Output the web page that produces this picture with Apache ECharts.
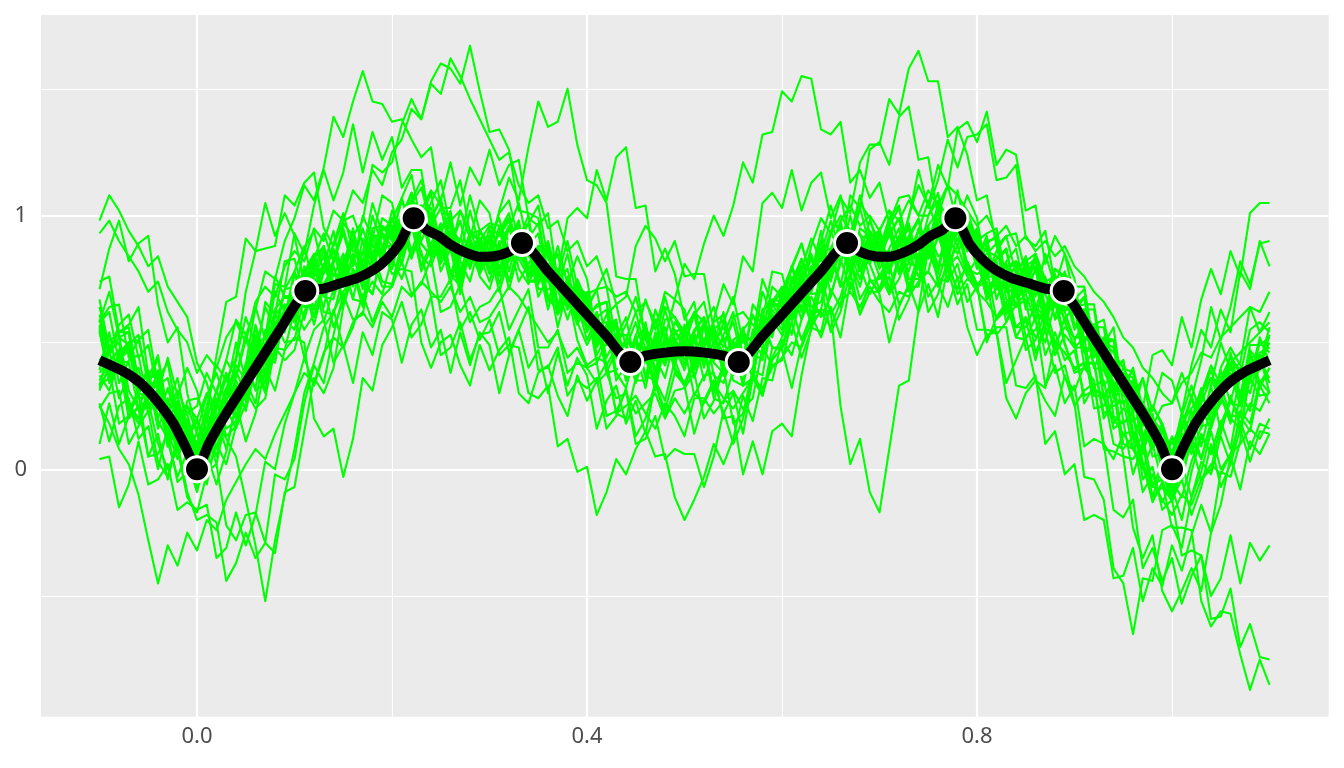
<!DOCTYPE html>
<html>
<head>
<meta charset="utf-8">
<script src="https://cdn.jsdelivr.net/npm/echarts@6/dist/echarts.min.js"></script>
<style>
html,body{margin:0;padding:0;background:#fff;}
#chart{width:1344px;height:768px;}
</style>
</head>
<body>
<div id="chart"></div>
<script>
// ---- data ----
const xs = [-0.10,-0.09,-0.08,-0.07,-0.06,-0.05,-0.04,-0.03,-0.02,-0.01,
  0.00,0.01,0.02,0.03,0.04,0.05,0.06,0.07,0.08,0.09,
  0.10,0.11,0.12,0.13,0.14,0.15,0.16,0.17,0.18,0.19,
  0.20,0.21,0.22,0.23,0.24,0.25,0.26,0.27,0.28,0.29,
  0.30,0.31,0.32,0.33,0.34,0.35,0.36,0.37,0.38,0.39,
  0.40,0.41,0.42,0.43,0.44,0.45,0.46,0.47,0.48,0.49,
  0.50,0.51,0.52,0.53,0.54,0.55,0.56,0.57,0.58,0.59,
  0.60,0.61,0.62,0.63,0.64,0.65,0.66,0.67,0.68,0.69,
  0.70,0.71,0.72,0.73,0.74,0.75,0.76,0.77,0.78,0.79,
  0.80,0.81,0.82,0.83,0.84,0.85,0.86,0.87,0.88,0.89,
  0.90,0.91,0.92,0.93,0.94,0.95,0.96,0.97,0.98,0.99,
  1.00,1.01,1.02,1.03,1.04,1.05,1.06,1.07,1.08,1.09,
  1.10];

const g01 = [.93,.98,.90,.84,.78,.70,.74,.62,.55,.50, .38,.45,.40,.52,.58,.50,.66,.72,.68,.80, .86,.82,.95,.90,1.02,.98,1.10,1.05,1.18,1.12, 1.25,1.30,1.42,1.38,1.52,1.48,1.62,1.55,1.46,1.38, 1.30,1.22,1.25,1.12,1.05,1.08,.95,.98,.86,.90, .80,.84,.72,.68,.70,.62,.66,.58,.64,.60, .54,.62,.58,.50,.56,.48,.55,.60,.58,.66, .72,.70,.82,.78,.90,.86,.98,1.04,.96,1.00, .94,1.02,.98,1.06,1.00,1.10,1.04,1.12,1.08,1.02, .96,1.00,.92,.96,.88,.92,.86,.90,.84,.88, .80,.76,.70,.66,.60,.52,.48,.40,.36,.30, .26,.34,.38,.46,.44,.52,.56,.60,.64,.62, .70];
const g02 = [.25,.18,.08,.02,-.10,-.28,-.45,-.30,-.38,-.25, -.32,-.20,-.24,-.12,-.05,.02,.08,.04,.14,.22, .30,.38,.34,.46,.52,.48,.58,.62,.56,.66, .60,.72,.68,.74,.70,.66,.72,.62,.68,.58, .60,.66,.72,.68,.62,.56,.50,.54,.44,.48, .40,.34,.38,.28,.30,.22,.26,.30,.20,.28, .22,.30,.26,.34,.28,.24,.30,.36,.32,.40, .44,.50,.48,.58,.62,.56,.66,.70,.64,.72, .66,.62,.70,.68,.74,.78,.72,.80,.84,.76, .70,.66,.60,.64,.56,.60,.52,.56,.50,.46, .40,.42,.32,.28,.20,.14,.08,.02,-.06,-.12, -.18,-.10,-.14,-.04,.02,-.02,.06,.10,.16,.12, .20];
const g03 = [.98,1.08,1.02,.94,.88,.80,.84,.72,.66,.60, .42,.34,.20,.12,.05,-.12,-.30,-.52,-.28,-.10, .08,.30,.42,.56,.62,.70,.76,.82,.88,.86, .94,1.00,1.06,1.02,1.10,1.04,.98,1.02,.94,.90, .96,.92,.98,.90,.84,.80,.74,.78,.70,.62, .56,.60,.52,.48,.44,.50,.46,.52,.44,.50, .56,.50,.58,.52,.46,.50,.44,.52,.56,.60, .62,.70,.74,.70,.80,.84,.88,.92,.88,.84, .88,.82,.90,.86,.94,.90,.98,1.00,1.04,.96, .90,.86,.84,.80,.82,.76,.80,.74,.76,.72, .66,.62,.56,.50,.46,.40,.32,.26,.20,.12, .10,.18,.24,.30,.36,.34,.42,.46,.50,.54, .58];
const g04 = [.58,.70,.52,.49,.53,.33,.33,.36,.19,.22, .25,.38,.30,.43,.59,.53,.63,.78,.75,.90, .99,1.12,1.06,1.19,1.39,1.31,1.45,1.57,1.45,1.44, 1.37,1.38,1.30,1.23,1.27,1.03,1.03,1.14,.93,.94, .97,.96,.90,.89,.93,.71,.71,.72,.65,.64, .57,.58,.38,.39,.45,.35,.35,.50,.43,.44, .49,.48,.42,.43,.47,.35,.33,.50,.45,.56, .61,.70,.64,.71,.87,.69,.81,.94,.79,.82, .85,.86,.78,.81,.95,.83,.91,1.02,.97,.96, .89,.88,.72,.73,.81,.63,.63,.76,.59,.64, .61,.58,.40,.39,.43,.19,.19,.22,.05,.06, .01,.14,.06,.17,.33,.15,.27,.40,.35,.46, .48];
const g05 = [.33,.36,.42,.20,.25,.27,.10,.00,.08,-.11, -.17,-.02,.10,.02,.17,.31,.24,.28,.48,.43, .47,.62,.72,.64,.81,.97,.92,.98,1.20,1.17, 1.21,1.36,1.46,1.38,1.53,1.60,1.58,1.52,1.67,1.49, 1.33,1.34,1.26,1.02,1.01,.99,.76,.64,.70,.51, .41,.44,.42,.22,.25,.29,.22,.16,.26,.21, .13,.28,.28,.22,.27,.31,.24,.28,.48,.41, .43,.58,.68,.58,.73,.87,.72,.76,.88,.81, .71,.84,.86,.78,.91,.93,.84,.86,.96,.81, .73,.76,.76,.58,.65,.69,.58,.50,.66,.49, .39,.42,.42,.22,.25,.27,.08,.00,.10,-.05, -.13,.02,.12,.04,.17,.29,.20,.16,.36,.29, .30];
const g06 = [.57,.41,.44,.50,.30,.28,.35,.15,.20,.05, .07,.01,.15,.24,.16,.26,.43,.31,.48,.47, .63,.55,.61,.72,.56,.66,.79,.67,.74,.69, .83,.75,.87,.86,.68,.68,.75,.55,.62,.51, .59,.45,.49,.48,.30,.28,.33,.09,.12,-.01, .01,-.18,-.09,.04,-.02,.08,.15,.05,.06,-.11, -.20,-.12,-.03,.10,.02,.12,.29,.19,.36,.35, .51,.45,.59,.68,.60,.68,.83,.71,.80,.69, .77,.69,.75,.86,.76,.78,.93,.81,.88,.77, .83,.67,.71,.72,.56,.56,.65,.45,.54,.43, .47,.29,.31,.30,.10,.08,.13,-.09,-.02,-.13, -.05,-.11,.03,.14,.06,.14,.29,.17,.26,.23, .31];
const g07 = [.37,.31,.43,.42,.24,.24,.29,.09,.16,.03, .11,.05,.19,.32,.24,.36,.53,.43,.60,.59, .73,.65,.77,.80,.72,.74,.91,.79,.88,.87, .99,.91,1.03,1.04,.86,.86,.93,.79,.86,.77, .85,.77,.89,.92,.74,.74,.81,.61,.68,.57, .65,.51,.55,.58,.42,.52,.67,.55,.70,.67, .81,.75,.89,1.00,.92,1.04,1.21,1.13,1.32,1.33, 1.49,1.45,1.55,1.54,1.34,1.32,1.37,1.13,1.18,1.07, 1.13,.97,1.07,1.08,1.00,1.00,1.09,.89,1.02,.89, .95,.79,.83,.86,.68,.70,.79,.59,.68,.59, .65,.47,.49,.48,.28,.26,.31,.09,.16,.03, .11,.05,.19,.30,.20,.26,.41,.29,.44,.39, .53];
const g08 = [.58,.62,.42,.50,.51,.35,.39,.23,.31,.22, .06,.22,.14,.30,.41,.35,.49,.43,.63,.68, .66,.80,.68,.80,.87,.77,.89,.79,.95,.96, .92,1.06,.96,1.02,1.03,.89,.93,.83,.93,.90, .82,.96,.84,.90,.91,.75,.79,.63,.73,.68, .56,.62,.44,.52,.53,.43,.53,.43,.59,.60, .50,.62,.50,.58,.61,.47,.53,.45,.63,.66, .64,.80,.72,.88,.99,.93,1.07,1.01,1.21,1.28, 1.28,1.46,1.40,1.58,1.65,1.53,1.53,1.31,1.35,1.24, 1.06,1.08,.88,.92,.93,.77,.83,.69,.79,.76, .64,.68,.48,.52,.51,.33,.35,.17,.25,.18, .06,.22,.14,.30,.41,.33,.45,.37,.55,.58, .54];
const g09 = [.31,.41,.44,.23,.31,.39,.19,.12,.25,.04, -.09,.08,.20,.08,.25,.42,.31,.34,.58,.50, .51,.68,.75,.58,.71,.83,.67,.66,.86,.74, .73,.89,1.00,.80,.89,.97,.77,.72,.90,.76, .71,.84,.90,.74,.81,.88,.68,.62,.76,.58, .49,.57,.58,.35,.41,.53,.37,.35,.53,.39, .33,.44,.49,.31,.41,.51,.33,.35,.58,.48, .47,.63,.72,.56,.63,.62,.25,.02,.12,-.09, -.17,.08,.33,.35,.63,.87,.75,.74,.95,.78, .71,.80,.82,.62,.72,.82,.64,.60,.77,.62, .51,.58,.57,.33,.38,.43,.20,.11,.22,.01, -.09,.11,.23,.09,.25,.39,.26,.25,.46,.34, .40];
const g10 = [.56,.37,.46,.50,.34,.39,.20,.32,.18,.25, .14,.01,.19,.32,.26,.41,.32,.55,.52,.71, .72,.59,.73,.81,.70,.80,.67,.86,.79,.95, .94,.81,.97,1.02,.87,.93,.76,.91,.82,.94, .89,.73,.86,.94,.79,.84,.66,.79,.66,.75, .66,.45,.53,.56,.40,.50,.36,.54,.45,.58, .53,.36,.48,.54,.41,.50,.34,.55,.50,.67, .66,.53,.69,.80,.72,.84,.72,.92,.82,.94, .88,.71,.84,.92,.81,.92,.79,.98,.90,.99, .90,.69,.77,.80,.64,.67,.46,.55,.38,.41, .26,-.03,-.04,-.12,-.39,-.45,-.65,-.43,-.44,-.24, -.22,-.31,-.11,.03,-.02,.13,.02,.23,.18,.35, .30];
const g11 = [.35,.42,.47,.25,.20,.31,.33,.19,.07,.17, .01,.14,.27,.13,.17,.37,.48,.44,.42,.64, .59,.72,.81,.62,.61,.76,.83,.75,.69,.87, .81,.93,1.06,.84,.80,.91,.94,.82,.74,.89, .79,.88,.96,.79,.73,.83,.85,.71,.59,.71, .56,.60,.63,.38,.32,.47,.53,.44,.36,.52, .43,.50,.57,.37,.34,.47,.51,.46,.43,.63, .57,.69,.80,.64,.66,.83,.92,.85,.75,.90, .79,.87,.95,.75,.75,.91,.99,.91,.85,.95, .81,.85,.89,.67,.64,.76,.80,.69,.60,.74, .57,.57,.56,.28,.18,.24,.21,.03,-.13,-.05, -.23,-.23,-.24,-.52,-.62,-.56,-.57,-.73,-.87,-.75, -.85];
const g12 = [.54,.38,.45,.48,.28,.29,.38,.14,.23,.08, .14,.04,.20,.32,.21,.32,.51,.38,.57,.54, .72,.64,.76,.84,.69,.76,.91,.74,.89,.82, .96,.84,.98,1.02,.83,.86,.97,.76,.89,.80, .92,.79,.90,.98,.77,.78,.88,.65,.74,.61, .68,.50,.56,.58,.37,.43,.57,.39,.52,.43, .55,.41,.51,.56,.39,.43,.55,.41,.59,.54, .70,.60,.74,.84,.71,.79,.96,.80,.91,.81, .92,.78,.89,.96,.80,.87,1.02,.85,1.00,.86, .94,.76,.83,.87,.68,.71,.83,.62,.73,.62, .68,.46,.48,.46,.21,.18,.23,-.04,.01,-.16, -.12,-.34,-.32,-.34,-.59,-.58,-.47,-.70,-.61,-.74, -.75];
const g13 = [.10,.26,.10,.21,.24,.05,.14,-.04,.13,.09, -.05,.14,.02,.21,.33,.23,.40,.30,.55,.59, .55,.73,.57,.72,.80,.65,.78,.64,.85,.85, .79,.96,.83,.94,.97,.78,.87,.69,.87,.84, .74,.88,.71,.86,.88,.68,.76,.56,.71,.65, .51,.60,.38,.47,.49,.34,.46,.31,.50,.48, .39,.54,.40,.59,.73,.65,.84,.78,1.05,1.09, 1.03,1.18,1.02,1.13,1.17,.99,1.08,.90,1.05,.99, .85,.96,.78,.92,.99,.84,.96,.81,1.01,.93, .79,.88,.67,.78,.82,.64,.74,.56,.73,.69, .55,.63,.40,.49,.51,.31,.40,.24,.45,.47, .41,.60,.48,.67,.79,.69,.86,.76,1.01,1.05, 1.05];
const g14 = [.74,.76,.54,.57,.64,.37,.36,.42,.21,.25, .20,.30,.18,.31,.50,.35,.46,.64,.55,.71, .78,.88,.72,.80,.94,.74,.81,.95,.82,.94, .98,1.07,.94,.99,1.09,.85,.88,.98,.82,.91, .92,.99,.82,.91,1.00,.75,.77,.85,.66,.72, .69,.71,.49,.52,.60,.40,.46,.59,.44,.54, .56,.61,.43,.50,.62,.40,.44,.61,.51,.65, .70,.80,.66,.77,.94,.76,.85,1.00,.83,.92, .94,1.02,.88,.99,1.18,1.03,1.14,1.30,1.19,1.31, 1.32,1.36,1.14,1.15,1.20,.91,.88,.94,.73,.77, .72,.72,.48,.49,.56,.29,.28,.36,.17,.25, .26,.38,.28,.43,.64,.51,.64,.82,.73,.89, .90];
const g15 = [.24,.30,.31,.10,.17,.23,.03,-.03,.10,-.09, -.20,-.18,-.21,-.44,-.37,-.25,-.35,-.29,-.02,-.04, .04,.26,.41,.34,.53,.69,.59,.61,.82,.72, .72,.86,.97,.78,.87,.95,.77,.75,.94,.84, .86,1.02,1.15,1.06,1.27,1.45,1.35,1.37,1.50,1.28, 1.14,1.12,1.05,.76,.75,.75,.51,.43,.56,.40, .34,.43,.48,.30,.41,.50,.33,.36,.58,.48, .48,.62,.71,.58,.73,.86,.73,.75,.90,.75, .70,.80,.86,.70,.82,.94,.80,.81,1.00,.80, .72,.78,.80,.61,.71,.79,.62,.59,.74,.58, .48,.52,.51,.28,.33,.37,.15,.07,.18,-.02, -.12,.06,.17,.04,.19,.33,.21,.21,.42,.32, .40];
const g16 = [.55,.34,.43,.47,.30,.35,.16,.28,.11,.20, .09,-.06,.13,.27,.20,.35,.26,.50,.43,.62, .61,.44,.55,.59,.42,.49,.34,.54,.45,.62, .59,.42,.57,.63,.48,.55,.38,.54,.41,.54, .49,.30,.45,.55,.40,.47,.30,.46,.33,.44, .37,.16,.27,.33,.18,.27,.14,.34,.23,.38, .33,.14,.27,.35,.22,.30,.14,.36,.29,.48, .47,.32,.49,.61,.52,.64,.52,.74,.61,.75, .69,.50,.64,.73,.62,.73,.60,.80,.71,.82, .73,.50,.60,.66,.52,.59,.43,.60,.47,.60, .51,.26,.33,.35,.16,.19,-.02,.10,-.07,.02, -.07,-.20,-.01,.13,.06,.19,.08,.30,.23,.42, .36];
const g17 = [.42,.51,.53,.31,.24,.34,.34,.21,.09,.17, .03,.16,.28,.16,.19,.39,.49,.46,.45,.65, .63,.76,.84,.68,.67,.83,.89,.82,.77,.93, .88,.98,1.09,.89,.84,.96,.98,.87,.80,.94, .86,.94,1.01,.85,.78,.88,.88,.75,.64,.74, .64,.71,.79,.65,.68,.88,.96,.91,.82,.90, .76,.77,.77,.55,.48,.60,.62,.57,.54,.72, .68,.79,.89,.75,.76,.93,1.00,.94,.85,.98, .89,.96,1.03,.86,.84,1.00,1.06,.99,.93,1.02, .90,.93,.95,.75,.70,.82,.85,.75,.66,.78, .64,.65,.65,.41,.32,.40,.38,.23,.10,.18, .06,.21,.33,.21,.22,.40,.48,.41,.36,.52, .42];
const g18 = [.67,.47,.54,.54,.30,.29,.38,.11,.19,.04, .15,.05,.24,.38,.28,.41,.64,.51,.73,.72, .93,.85,1.04,1.18,1.06,1.17,1.36,1.17,1.33,1.22, 1.31,1.11,1.18,1.18,.94,.93,1.02,.77,.89,.78, .91,.76,.88,.96,.74,.75,.87,.62,.72,.59, .68,.48,.55,.57,.35,.41,.57,.37,.51,.42, .56,.39,.50,.56,.37,.41,.55,.39,.58,.53, .70,.59,.74,.84,.70,.78,.97,.80,.91,.81, .93,.77,.89,.95,.79,.86,1.04,.86,1.02,.86, .95,.75,.83,.87,.68,.71,.85,.63,.76,.66, .73,.51,.56,.56,.32,.31,.40,.13,.20,.04, .13,.03,.20,.32,.18,.27,.46,.29,.47,.42, .50];
const g19 = [.33,.47,.28,.37,.40,.22,.28,.09,.21,.14, -.02,.16,.05,.23,.35,.27,.43,.34,.57,.62, .58,.75,.60,.73,.80,.67,.79,.66,.85,.86, .79,.95,.84,.94,.98,.81,.89,.72,.89,.87, .77,.90,.74,.89,.91,.73,.80,.61,.74,.69, .54,.62,.41,.48,.50,.37,.48,.34,.51,.50, .41,.52,.35,.47,.52,.37,.46,.36,.58,.61, .55,.72,.59,.75,.85,.74,.88,.77,.92,.91, .82,.97,.84,1.00,1.12,1.04,1.20,1.11,1.34,1.37, 1.29,1.41,1.20,1.26,1.24,1.02,1.04,.81,.92,.85, .67,.71,.46,.50,.48,.26,.30,.09,.20,.15, .03,.19,.08,.26,.36,.26,.38,.25,.44,.45, .34];
const g20 = [.04,.05,-.15,-.06,.11,-.06,-.04,.02,-.16,-.13, -.16,-.14,-.35,-.31,-.17,-.30,-.18,.03,.00,.18, .30,.44,.33,.45,.63,.48,.56,.69,.58,.68, .72,.82,.69,.73,.83,.62,.64,.73,.58,.64, .66,.72,.55,.63,.71,.48,.48,.55,.38,.42, .40,.42,.21,.23,.31,.10,.12,.21,.04,.08, .06,.06,-.07,.05,.23,.10,.20,.37,.30,.44, .52,.64,.51,.61,.77,.61,.68,.82,.67,.74, .75,.81,.65,.72,.85,.68,.74,.87,.75,.79, .77,.79,.59,.63,.73,.52,.55,.65,.50,.56, .52,.52,.29,.29,.35,.10,.08,.13,-.06,-.04, -.06,.02,-.11,-.01,.15,.00,.06,.19,.08,.18, .16];
const g21 = [.71,.87,.98,.82,.89,.92,.65,.50,.56,.30, .15,.29,.38,.26,.43,.60,.49,.52,.76,.68, .69,.87,.94,.77,.89,1.01,.86,.85,1.05,.93, .91,1.07,1.16,.96,1.05,1.14,.95,.90,1.08,.94, .89,1.01,1.06,.90,.97,1.04,.83,.76,.90,.72, .63,.71,.72,.50,.57,.68,.52,.50,.68,.54, .49,.61,.66,.48,.58,.68,.50,.52,.75,.65, .64,.80,.89,.75,.90,1.04,.91,.92,1.08,.93, .87,.99,1.04,.84,.91,.96,.73,.64,.76,.56, .45,.53,.54,.34,.43,.52,.35,.32,.50,.36, .31,.41,.42,.20,.27,.34,.13,.06,.20,.02, -.05,.15,.28,.16,.33,.50,.39,.42,.64,.54, .62];
const g22 = [.26,.11,.25,.28,.12,.17,.00,.17,.10,.27, .28,.21,.45,.66,.68,.91,.86,1.05,.92,1.01, .92,.73,.83,.88,.76,.85,.72,.91,.84,.99, .96,.81,.95,1.00,.84,.90,.73,.88,.79,.91, .86,.70,.83,.92,.76,.81,.63,.76,.63,.72, .63,.42,.50,.53,.36,.46,.32,.50,.41,.54, .48,.29,.37,.38,.20,.21,-.02,.11,-.02,.15, .18,.13,.37,.56,.54,.71,.64,.87,.78,.91, .86,.69,.82,.90,.79,.90,.77,.96,.88,.97, .88,.67,.76,.81,.68,.75,.59,.75,.64,.75, .64,.41,.47,.48,.30,.33,.12,.23,.08,.15, .06,-.05,.13,.24,.16,.29,.18,.37,.30,.45, .30];
const g23 = [.43,.47,.50,.26,.20,.28,.27,.11,-.03,.07, -.07,-.01,.02,-.22,-.28,-.18,-.17,-.29,-.33,-.09, -.07,.15,.36,.30,.40,.64,.77,.73,.69,.87, .77,.79,.78,.50,.40,.50,.53,.41,.33,.49, .39,.47,.52,.30,.26,.38,.41,.29,.21,.37, .27,.35,.42,.22,.20,.36,.43,.35,.27,.43, .33,.41,.48,.28,.26,.39,.43,.39,.37,.59, .53,.66,.77,.61,.63,.80,.89,.82,.72,.87, .76,.84,.92,.72,.72,.88,.93,.79,.65,.73, .55,.55,.54,.28,.20,.30,.35,.27,.21,.37, .25,.31,.34,.10,.04,.14,.15,.01,-.11,.01, -.11,-.01,.10,-.04,.00,.18,.27,.21,.15,.33, .26];
const g24 = [.64,.48,.54,.56,.35,.36,.45,.22,.29,.14, .20,.10,.26,.38,.27,.38,.57,.44,.63,.60, .78,.68,.80,.88,.73,.80,.95,.78,.93,.86, 1.02,.92,1.06,1.14,.99,1.06,1.21,1.04,1.19,1.12, 1.26,1.12,1.20,1.22,.99,.96,1.01,.74,.79,.62, .68,.49,.54,.56,.35,.41,.55,.37,.50,.41, .54,.39,.49,.55,.37,.41,.53,.39,.57,.52, .68,.59,.73,.83,.70,.78,.95,.80,.91,.82, .93,.79,.90,.96,.81,.86,.97,.74,.81,.66, .72,.52,.56,.56,.33,.32,.37,.10,.15,-.02, .02,-.20,-.18,-.20,-.43,-.42,-.31,-.52,-.39,-.46, -.30,-.40,-.26,-.14,-.25,-.14,.05,-.08,.11,.06, .14];
const g25 = [.39,.54,.34,.43,.45,.25,.32,.12,.26,.18, .02,.20,.08,.27,.39,.29,.46,.36,.61,.65, .61,.79,.63,.78,.86,.72,.85,.71,.92,.92, .85,1.00,.86,.97,1.01,.83,.92,.74,.93,.91, .81,.95,.78,.93,.97,.79,.90,.76,.99,1.03, .99,1.18,1.06,1.23,1.27,1.03,1.04,.78,.87,.77, .59,.66,.44,.55,.59,.42,.52,.40,.63,.65, .59,.76,.62,.79,.89,.76,.90,.78,.95,.92, .81,.94,.77,.91,.98,.84,.97,.83,1.03,.97, .83,.92,.71,.82,.87,.69,.79,.62,.79,.75, .61,.68,.44,.51,.51,.29,.34,.12,.25,.17, .03,.22,.10,.29,.39,.27,.42,.28,.49,.49, .52];
const g26 = [.32,.40,.18,.21,.30,.05,.06,.14,-.05,-.01, -.04,.06,-.06,.07,.26,.11,.22,.40,.31,.47, .52,.50,.20,.13,.16,-.03,.12,.36,.31,.49, .56,.66,.52,.57,.68,.45,.48,.58,.43,.53, .54,.62,.46,.55,.64,.39,.40,.48,.29,.35, .32,.36,.16,.21,.32,.13,.20,.34,.21,.31, .32,.38,.20,.27,.40,.18,.22,.39,.29,.43, .48,.58,.44,.55,.72,.54,.62,.78,.61,.70, .70,.76,.59,.67,.81,.62,.69,.83,.69,.75, .72,.74,.53,.58,.70,.47,.51,.62,.45,.53, .48,.48,.24,.25,.32,.05,.04,.10,-.11,-.07, -.12,-.04,-.18,-.07,.10,-.07,.02,.16,.03,.15, .14];
const g27 = [.58,.64,.65,.44,.51,.55,.33,.25,.36,.16, .06,.20,.31,.20,.37,.53,.43,.47,.70,.62, .64,.78,.85,.70,.83,.95,.81,.81,1.00,.88, .88,1.00,1.09,.90,.99,1.07,.89,.85,1.02,.88, .84,.94,.99,.84,.91,.97,.78,.72,.85,.67, .59,.65,.66,.45,.51,.62,.47,.46,.63,.49, .46,.55,.60,.43,.53,.62,.45,.48,.70,.60, .60,.74,.83,.70,.85,.98,.86,.88,1.03,.88, .83,.93,.99,.82,.94,1.06,.92,.92,1.10,.92, .84,.90,.91,.70,.77,.83,.63,.57,.70,.50, .38,.40,.35,.08,.07,.05,-.23,-.35,-.26,-.48, -.56,-.48,-.39,-.48,-.25,-.01,-.03,.11,.42,.42, .56];
const g28 = [.61,.46,.57,.61,.44,.49,.30,.44,.29,.40, .31,.14,.31,.43,.36,.51,.42,.66,.61,.82, .83,.68,.83,.93,.82,.93,.80,1.00,.91,1.08, 1.05,.88,1.05,1.11,.96,1.03,.86,1.02,.91,1.06, 1.01,.82,.95,1.05,.88,.93,.74,.88,.73,.84, .75,.52,.61,.65,.48,.58,.44,.63,.52,.67, .63,.43,.56,.64,.50,.58,.42,.65,.59,.78, .77,.62,.79,.91,.82,.94,.84,1.08,1.03,1.26, 1.29,1.20,1.39,1.43,1.22,1.23,1.00,1.12,.97,1.08, .99,.76,.86,.92,.77,.84,.68,.85,.72,.85, .75,.50,.57,.59,.40,.43,.22,.36,.23,.38, .35,.22,.41,.55,.48,.63,.54,.78,.71,.90, .80];
const g29 = [.38,.43,.47,.25,.18,.28,.28,.15,.04,.16, .10,.25,.41,.35,.44,.70,.86,.87,.88,1.08, 1.04,1.13,1.17,.95,.88,.98,1.00,.89,.82,.96, .90,.99,1.09,.89,.84,.96,.98,.87,.80,.94, .86,.93,.99,.83,.76,.86,.87,.74,.63,.73, .61,.64,.66,.44,.36,.51,.56,.48,.41,.55, .48,.54,.60,.42,.38,.51,.54,.50,.48,.66, .62,.73,.83,.69,.70,.87,.95,.90,.81,.94, .85,.92,.99,.81,.80,.96,1.02,.95,.90,.98, .86,.89,.92,.72,.68,.80,.83,.73,.64,.76, .62,.63,.63,.39,.30,.38,.36,.21,.08,.16, .04,.17,.29,.17,.18,.36,.44,.39,.34,.50, .46];
const g30 = [.59,.45,.52,.54,.32,.33,.44,.19,.27,.12, .19,.07,.24,.36,.24,.35,.56,.41,.61,.58, .77,.65,.78,.86,.70,.77,.94,.75,.91,.84, .99,.85,1.00,1.04,.84,.87,1.00,.77,.91,.82, .95,.79,.90,.98,.76,.77,.89,.64,.74,.61, .70,.50,.57,.59,.36,.42,.58,.38,.52,.43, .57,.40,.51,.57,.38,.42,.56,.40,.59,.54, .71,.60,.75,.85,.71,.79,.98,.81,.93,.83, .95,.79,.91,.97,.81,.88,1.05,.86,1.01,.86, .93,.71,.76,.76,.52,.51,.60,.33,.41,.26, .33,.09,.12,.10,-.16,-.19,-.12,-.39,-.31,-.44, -.35,-.53,-.42,-.34,-.50,-.43,-.26,-.45,-.29,-.36, -.30];

const greenLines = [g01,g02,g03,g04,g05,g06,g07,g08,g09,g10,g11,g12,g13,g14,g15,
  g16,g17,g18,g19,g20,g21,g22,g23,g24,g25,g26,g27,g28,g29,g30];

const meanX = [-0.1,-0.075,-0.058,-0.04,-0.024,-0.012,0,
  0.012,0.03,0.06,0.085,0.1111,
  0.13,0.147,0.165,0.181,0.195,0.208,0.2222,
  0.235,0.249,0.26,0.275,0.29,0.305,0.32,0.3333,
  0.36,0.39,0.42,0.4444,
  0.46,0.48,0.5,
  0.52,0.54,0.5556,
  0.58,0.61,0.64,0.6667,
  0.68,0.695,0.71,0.725,0.74,0.751,0.765,0.7778,
  0.792,0.805,0.819,0.835,0.853,0.87,0.8889,
  0.915,0.94,0.97,0.988,1.0,
  1.012,1.024,1.04,1.058,1.075,1.1];
const meanY = [0.43,0.385,0.34,0.265,0.18,0.09,0,
  0.10,0.22,0.40,0.55,0.703,
  0.712,0.733,0.755,0.786,0.83,0.89,0.99,
  0.945,0.917,0.885,0.855,0.838,0.84,0.858,0.892,
  0.78,0.652,0.525,0.423,
  0.448,0.46,0.465,
  0.46,0.448,0.423,
  0.525,0.652,0.78,0.892,
  0.858,0.84,0.838,0.855,0.885,0.917,0.945,0.99,
  0.89,0.83,0.786,0.755,0.733,0.712,0.703,
  0.55,0.40,0.22,0.10,0,
  0.09,0.18,0.265,0.34,0.385,0.43];

const pointX = [0,0.1111,0.2222,0.3333,0.4444,0.5556,0.6667,0.7778,0.8889,1.0];
const pointY = [0,0.703,0.99,0.892,0.423,0.423,0.892,0.99,0.703,0];

const xTickValues = [0, 0.4, 0.8];
const yTickValues = [0, 1];
const xMajorGrid = [0, 0.4, 0.8];
const xMinorGrid = [0.2, 0.6, 1.0];
const yMajorGrid = [0, 1];
const yMinorGrid = [-0.5, 0.5, 1.5];

// ---- chart ----
const chart = echarts.init(document.getElementById('chart'), null, {renderer:'canvas'});

const gridLines = [];
xMinorGrid.forEach(v => gridLines.push({xAxis:v, lineStyle:{color:'#ffffff', width:1.1, type:'solid'}}));
yMinorGrid.forEach(v => gridLines.push({yAxis:v, lineStyle:{color:'#ffffff', width:1.1, type:'solid'}}));
xMajorGrid.forEach(v => gridLines.push({xAxis:v, lineStyle:{color:'#ffffff', width:2.2, type:'solid'}}));
yMajorGrid.forEach(v => gridLines.push({yAxis:v, lineStyle:{color:'#ffffff', width:2.2, type:'solid'}}));

const series = [];
series.push({
  type:'line', data:[], z:1, silent:true,
  markLine:{silent:true, z:1, symbol:['none','none'], label:{show:false}, animation:false,
    emphasis:{disabled:true}, data:gridLines}
});
greenLines.forEach(arr => {
  series.push({
    type:'line', z:2, silent:true, symbol:'none', showSymbol:false,
    lineStyle:{color:'#00FF00', width:2.1, join:'round'},
    emphasis:{disabled:true},
    data: xs.map((x,i) => [x, arr[i]])
  });
});
series.push({
  type:'line', z:3, silent:true, symbol:'none', showSymbol:false, smooth:0.2,
  lineStyle:{color:'#000000', width:10, cap:'butt', join:'round'},
  emphasis:{disabled:true},
  data: meanX.map((x,i) => [x, meanY[i]])
});
series.push({
  type:'scatter', z:4, silent:true, symbol:'circle', symbolSize:25,
  itemStyle:{color:'#000000', borderColor:'#ffffff', borderWidth:3, opacity:1},
  emphasis:{disabled:true},
  data: pointX.map((x,i) => [x, pointY[i]])
});

const labelStyle = {color:'#4D4D4D', fontSize:22, fontFamily:'Noto Sans'};

chart.setOption({
  animation:false,
  backgroundColor:'#ffffff',
  grid:{left:41, right:15.3, top:15, bottom:51.3, show:true, backgroundColor:'#EBEBEB', borderWidth:0},
  xAxis:{
    type:'value', min:-0.16, max:1.1607,
    axisLine:{show:false},
    splitLine:{show:false},
    axisTick:{show:true, customValues:xTickValues, length:7, lineStyle:{color:'#333333', width:2}},
    axisLabel:Object.assign({show:true, customValues:xTickValues, margin:9,
      formatter:v => Number(v).toFixed(1)}, labelStyle)
  },
  yAxis:{
    type:'value', min:-0.9755, max:1.791,
    axisLine:{show:false},
    splitLine:{show:false},
    axisTick:{show:true, customValues:yTickValues, length:7, lineStyle:{color:'#333333', width:2}},
    axisLabel:Object.assign({show:true, customValues:yTickValues, margin:14,
      formatter:v => String(Math.round(v))}, labelStyle)
  },
  series: series
});
</script>
</body>
</html>
